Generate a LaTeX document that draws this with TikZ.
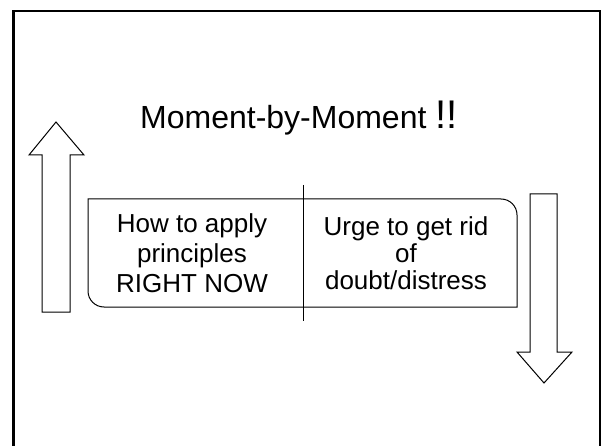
\documentclass[tikz,border=0pt]{standalone}
\usepackage{fontspec}
\setmainfont{Liberation Sans}
\tikzset{
  slideframe/.style={draw, line width=2.5pt},
  shapeline/.style={draw, line width=1pt},
  blockarrow/.style={draw, line width=1pt, line join=miter, fill=white},
  cell/.style={
    align=center,
    inner sep=0pt,
  },
  titletext/.style={
    anchor=base west,
    inner sep=0pt,
    font=\fontsize{32}{38}\selectfont,
  },
}

\begin{document}
\begin{tikzpicture}[x=1pt, y=-1pt]
\useasboundingbox (0,0) rectangle (602,446);

% Slide frame (runs off the bottom edge)
\draw[slideframe] (13.5,446) -- (13.5,11) -- (600,11) -- (600,446);

% Title
\node[titletext] (title) at (140,129) {Moment-by-Moment {\fontsize{40}{40}\selectfont !!}};

% Two-cell box, rounded at top right and bottom left
\coordinate (boxnw) at (88,199);
\coordinate (boxse) at (517,307);
\draw[shapeline] (boxnw) -- (501,199) arc[start angle=-90, end angle=0, radius=16]
  -- (boxse) -- (104,307) arc[start angle=90, end angle=180, radius=16] -- cycle;

% Divider, sticks out above and below
\coordinate (divtop) at (303,185);
\coordinate (divbot) at (303,321);
\draw[shapeline] (divtop) -- (divbot);

% Cell texts
\node[cell, font=\fontsize{26}{30}\selectfont] (apply) at (192,253) {How to apply\\principles\\RIGHT NOW};
\node[cell, font=\fontsize{26}{27}\selectfont] (urge) at (406,253) {Urge to get rid\\of\\doubt/distress};

% Up arrow (left)
\draw[blockarrow] (42,312) -- (42,155) -- (29,155) -- (56,122)
  -- (84,155) -- (70,155) -- (70,312) -- cycle;

% Down arrow (right)
\draw[blockarrow] (530,194) -- (557,194) -- (557,352) -- (572,352)
  -- (544,383) -- (517,352) -- (530,352) -- cycle;

\end{tikzpicture}
\end{document}
